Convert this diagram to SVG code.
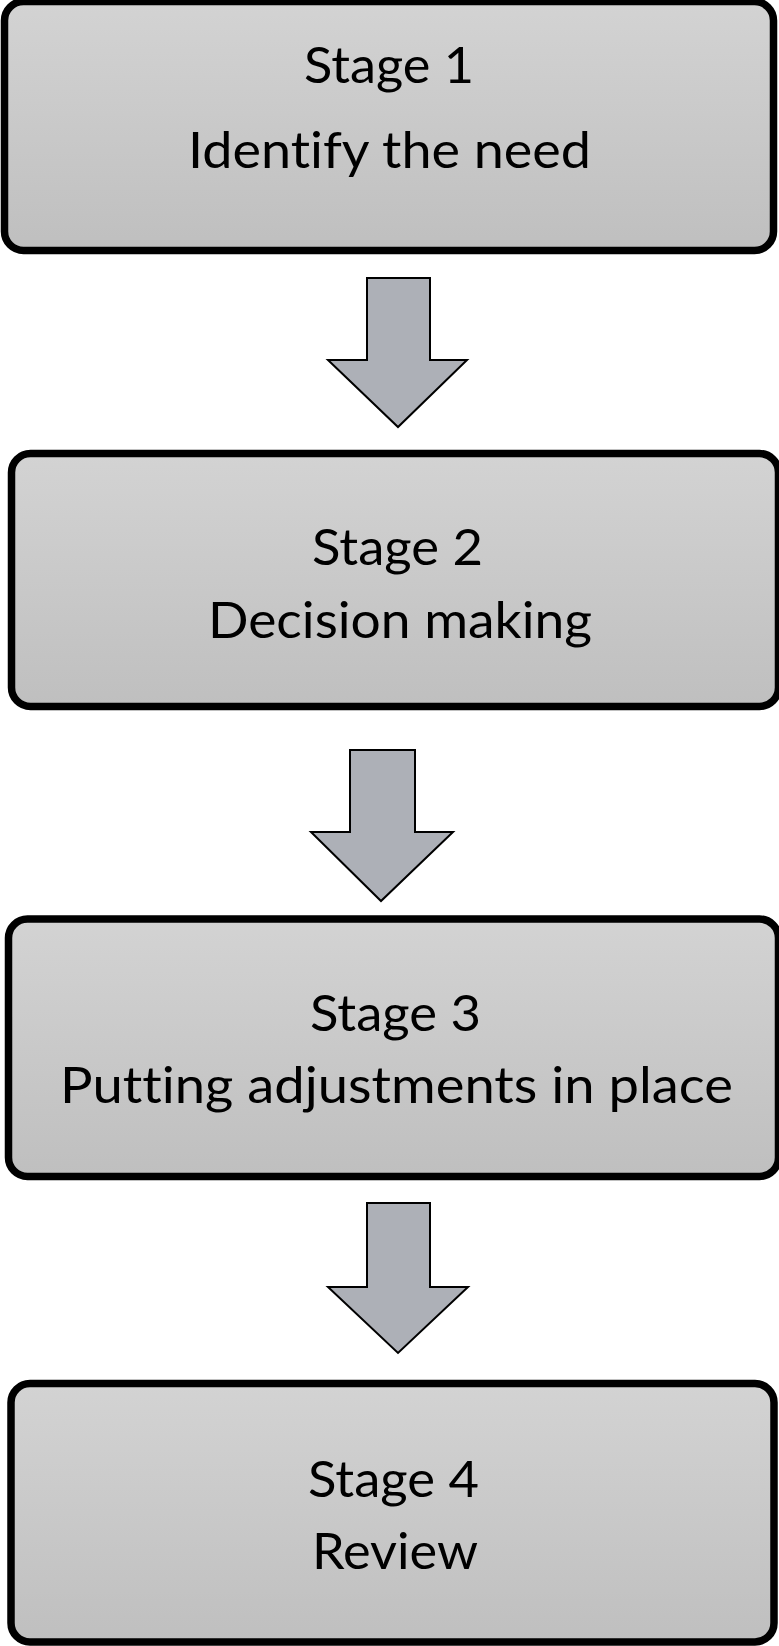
<svg xmlns="http://www.w3.org/2000/svg" width="779" height="1646" viewBox="0 0 779 1646">
  <defs>
    <linearGradient id="boxGrad" x1="0" y1="0" x2="0" y2="1">
      <stop offset="0" stop-color="#d3d3d3"/>
      <stop offset="1" stop-color="#bfbfbf"/>
    </linearGradient>
  </defs>
  <style>
    .box { fill: url(#boxGrad); stroke: #000; stroke-width: 7.5; }
    .lbl { font-family: Lato, "Liberation Sans", sans-serif; font-size: 51px; fill: #000; text-anchor: middle; font-variant-ligatures: none; }
    .arrow { fill: #adb0b7; stroke: #000; stroke-width: 2; stroke-linejoin: miter; }
  </style>
  <rect width="779" height="1646" fill="#fff"/>

  <g id="connectors">
    <polygon class="arrow" points="367,278 430,278 430,360 467,360 398,427 328,360 367,360"/>
    <polygon class="arrow" points="350,750 415,750 415,832 453,832 381,901 311,832 350,832"/>
    <polygon class="arrow" points="367,1203 430,1203 430,1287 468,1287 398,1353 328,1287 367,1287"/>
  </g>

  <g id="stage1">
    <rect class="box" x="4.5" y="1.5" width="769" height="249" rx="19" ry="19"/>
    <text class="lbl" x="389" y="83" textLength="170" lengthAdjust="spacingAndGlyphs">Stage 1</text>
    <text class="lbl" x="389.5" y="168" textLength="403" lengthAdjust="spacingAndGlyphs">Identify the need</text>
  </g>

  <g id="stage2">
    <rect class="box" x="11.5" y="453.5" width="767" height="253" rx="19" ry="19"/>
    <text class="lbl" x="397.5" y="565" textLength="171" lengthAdjust="spacingAndGlyphs">Stage 2</text>
    <text class="lbl" x="400" y="638" textLength="384" lengthAdjust="spacingAndGlyphs">Decision making</text>
  </g>

  <g id="stage3">
    <rect class="box" x="8.5" y="919" width="770" height="257.5" rx="19" ry="19"/>
    <text class="lbl" x="395.5" y="1031" textLength="171" lengthAdjust="spacingAndGlyphs">Stage 3</text>
    <text class="lbl" x="396.5" y="1103" textLength="673" lengthAdjust="spacingAndGlyphs">Putting adjustments in place</text>
  </g>

  <g id="stage4">
    <rect class="box" x="11" y="1383.5" width="763" height="258.5" rx="19" ry="19"/>
    <text class="lbl" x="393.5" y="1497" textLength="171" lengthAdjust="spacingAndGlyphs">Stage 4</text>
    <text class="lbl" x="395" y="1569" textLength="166" lengthAdjust="spacingAndGlyphs">Review</text>
  </g>
</svg>
